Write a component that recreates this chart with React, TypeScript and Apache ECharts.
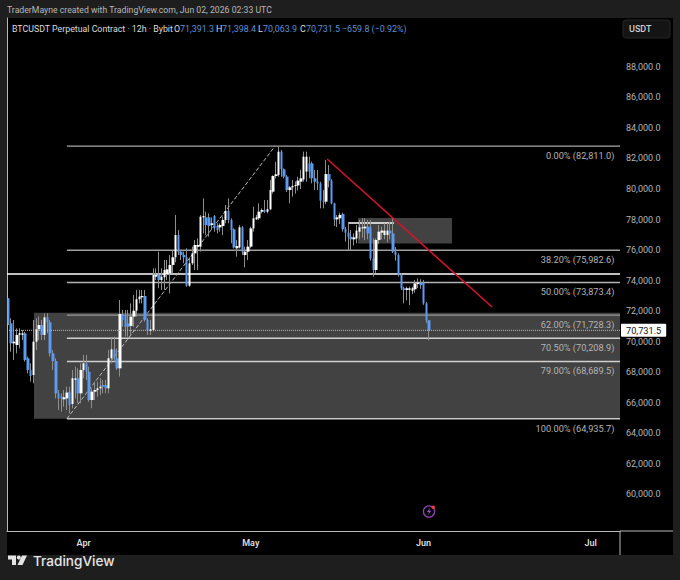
import React, { useEffect, useRef } from "react";
import * as echarts from "echarts";

// [open, close, low, high], one candle per 12h
const candlesMar = [
  [72830,71190,71080,72830],[71190,69880,69330,71520],[69880,69990,68790,71410],[69770,70430,69225,70860],
  [70430,70540,69550,70860],[70430,70540,70100,70750],[70540,68790,68680,70640],[68900,68130,67910,69010],
  [68130,67740,67370,68570],[67800,69990,67260,71410],[69990,70800,69440,71520],[70800,71080,70100,71630],
  [71080,70430,70100,71410],[70430,71585,70100,71850],[71585,71260,70540,71850],[71260,69225,69010,71410],
  [69225,68720,68130,69440],[68720,66600,66270,68900],[66600,66270,65510,66820],[66380,66270,65400,66600],
  [66210,66340,65730,66820],[66270,66650,65510,67040],[66710,65840,65290,67040],[65900,67590,65620,68130],
  [67480,67590,66270,68350],[67590,66600,65950,68240],[66600,68130,65950,68570],
];
const candlesApr = [
  [68130,68570,67590,69120],[68570,68020,67480,69120],[68020,66160,66050,68350],[66160,66710,65620,66930],
  [66710,66820,66160,67370],[66820,66930,66380,67370],[66930,67040,66490,67590],[67150,67040,66600,67480],
  [67150,66930,66600,67480],[66930,68900,66600,69440],[68900,69490,68570,70210],[69490,68900,68680,70320],
  [68900,68240,68130,69550],[68240,71800,67700,72720],[71800,71410,70970,72070],[71740,70970,70320,72070],
  [71190,70970,70320,72070],[71020,71630,70430,72500],[71630,72020,70970,73050],[72020,72770,71630,73380],
  [72770,72940,72500,73380],[72900,72985,72500,73380],[72985,71410,71300,73380],[71410,70710,70430,71520],
  [70710,70800,70430,71410],[70750,74360,70640,74800],[74250,74360,74030,74800],[74360,74030,73490,75890],
  [74030,74250,73380,74800],[74210,74690,73380,75340],[74425,74730,74030,75340],[74470,75020,73150,75670],
  [75020,75520,74470,76000],[75520,76980,75200,78295],[76980,75890,75670,77310],[75890,75670,75340,76000],
  [75670,75520,75130,75890],[75520,73660,73595,76110],[73660,75125,73595,75520],[75125,75780,75016,76217],
  [75780,76330,74690,76655],[76220,76330,74690,76760],[76220,78185,75900,78295],[78140,78230,77090,79390],
  [78140,77640,76980,78510],[78140,77570,76870,78400],[77640,77750,77310,78140],[78230,77420,77200,78295],
  [77570,77310,77090,77750],[77480,77640,77200,77750],[77570,77970,76980,78185],[77970,78560,77750,78950],
  [78560,77970,77750,79390],[77970,77310,76440,78076],[77355,76170,76100,77420],[76110,76260,75560,76650],
  [76170,77490,76100,77640],[77490,75890,75670,77570],[75670,75890,74860,76220],[75890,76220,75340,76650],
];
const candlesMay = [
  [76220,77420,76110,77530],[77420,78080,77200,78840],[78010,78140,77970,78300],[78080,78510,77970,79060],
  [78510,78620,78400,78730],[78620,78510,78430,79280],[78510,78670,78400,79280],[78670,79930,78600,80590],
  [79825,80850,79700,80900],[80850,80960,80700,81790],[80920,82450,80800,82780],[82450,81290,80800,82560],
  [81290,80810,80700,81350],[80810,79930,79800,80920],[79930,80110,79060,80200],[80110,80200,79500,80590],
  [80190,80260,79700,80500],[80230,80550,79900,80800],[80480,80700,80000,81250],[80630,82120,80480,82450],
  [81140,82120,80480,82450],[81680,81140,80700,82120],[81680,80700,80370,81790],[80700,80480,79930,81250],
  [80480,80370,79930,81250],[80370,79230,78730,80480],[79230,79170,78730,79930],[79170,80980,79000,81900],
  [80980,80550,80100,81570],[80550,79060,79000,80640],[79060,78010,77570,79100],[78010,78140,77500,78290],
  [78080,78300,77700,78450],[78360,77360,77200,78450],[77360,77140,76550,77500],[77140,76870,76000,77750],
  [76870,76700,76000,77310],[76700,76830,76300,77090],[76760,77270,76440,77640],[77200,77490,76700,77970],
  [77420,77490,76800,78080],[77420,77530,76650,78080],[77530,77090,76700,77970],[77490,75450,75300,77970],
  [75450,74690,74250,76760],[74690,76660,74500,76760],[76660,77200,76400,77640],[77140,77270,76700,77530],
  [76980,77270,76700,77750],[76980,77270,76500,77750],[77270,77090,76700,77860],[77090,75890,75800,78080],
  [75890,75670,75300,76200],[75670,74360,74250,75780],[74360,73490,73380,74470],[73490,73380,72500,73590],
  [73380,73490,72700,73590],[73380,73490,72390,73590],[73330,73490,73100,73590],[73420,73810,73200,74030],
  [73770,73860,73500,74140],[73860,73700,73450,74080],
];
const candlesJun = [
  [73860,72500,72400,74030],[72500,71391,71200,72600],[71391.3,70731.5,70063.9,71398.4],
];
const candles = [...candlesMar, ...candlesApr, ...candlesMay, ...candlesJun];

const monthLabels: Record<number, string> = { 27: "Apr", 87: "May", 149: "Jun", 209: "Jul" };
const slotCount = 220;
const categories = Array.from({ length: slotCount }, (_, i) => monthLabels[i] ?? `c${i}`);

const priceTicks = [60000, 62000, 64000, 66000, 68000, 70000, 72000, 74000, 76000, 78000, 80000, 82000, 84000, 86000, 88000];
const fibPrices = [82811, 75982.6, 73873.4, 71728.3, 70208.9, 68689.5, 64935.7];
const fibRatios = ["0.00%", "38.20%", "50.00%", "62.00%", "70.50%", "79.00%", "100.00%"];
const fibColors = ["#a8a8a8", "#a0a0a0", "#b4b4b4", "#9a9a9a", "#d0d0d0", "#d0d0d0", "#c8c8c8"];
const lastPrice = 70731.5;
const keyLevel = 74427;
// [slot from, slot to, price top, price bottom]
const zones = [
  [9.7, 220, 71888, 64935.7],
  [126, 159.7, 78100, 76425],
];
const fmt = (v: number) => v.toLocaleString("en-US", { minimumFractionDigits: 1, maximumFractionDigits: 1 });
const FONT = 'Roboto, "Liberation Sans", sans-serif';

const hline = (name: string, data: number[][], color: string, width: number, type: string, z: number, extra: object = {}) => ({
  name, type: "line", xAxisIndex: 1, yAxisIndex: 0, data, symbol: "none", silent: true, z,
  lineStyle: { color, width, type }, ...extra,
});

const txt = (text: string, x: number, y: number, fill: string, font = `8.9px ${FONT}`, textAlign = "left") => ({
  type: "text", x, y, silent: true,
  style: { text, fill, font, textAlign, textVerticalAlign: "middle" },
});

export default function App() {
  const ref = useRef<HTMLDivElement>(null);
  useEffect(() => {
    document.body.style.margin = "0";
    document.body.style.background = "#1e1e1e";
    const chart = echarts.init(ref.current!, undefined, { renderer: "svg" });
    const blue = "#5b9bf0";
    const headBlue = "#5f8fd6";
    echarts.graphic.registerShape("tvSlant", echarts.graphic.extendPath(
      "M5 0 H0 L-4.5 9.5 H0.5 Z", {}) as any);
    chart.setOption({
      animation: false,
      backgroundColor: "#1e1e1e",
      tooltip: { show: false },
      grid: { left: 7, top: 18, width: 613, height: 513, containLabel: false },
      xAxis: [
        {
          type: "category", data: categories, boundaryGap: true,
          axisLine: { show: true, lineStyle: { color: "#b8b8b8", width: 1 } },
          axisTick: { show: false }, splitLine: { show: false },
          axisLabel: {
            interval: (i: number) => monthLabels[i] !== undefined,
            color: "#dcdcdc", fontFamily: FONT, fontSize: 9, fontWeight: 600, margin: 7,
          },
        },
        { type: "value", min: 0, max: slotCount, show: false, splitLine: { show: false } },
      ],
      yAxis: {
        type: "value", position: "right", min: 57574, max: 91213, scale: true,
        axisLine: { show: true, lineStyle: { color: "#b8b8b8", width: 1 } },
        axisTick: { show: false }, splitLine: { show: false },
        axisLabel: {
          customValues: priceTicks, color: "#b4b4b4", fontFamily: FONT, fontSize: 9, margin: 6,
          formatter: (v: number) => fmt(v),
        },
      },
      graphic: [
        { type: "rect", z: -10, silent: true, shape: { x: 7, y: 18, width: 666, height: 537 }, style: { fill: "#000" } },
        { type: "line", silent: true, shape: { x1: 620, y1: 531, x2: 620, y2: 555 }, style: { stroke: "#b8b8b8", lineWidth: 1 } },
        { type: "line", silent: true, shape: { x1: 620, y1: 531, x2: 673, y2: 531 }, style: { stroke: "#b8b8b8", lineWidth: 1 } },
        txt("TraderMayne created with TradingView.com, Jun 02, 2026 02:33 UTC", 7, 10, "#b8b8b8", `8.7px ${FONT}`),
        txt("BTCUSDT Perpetual Contract · 12h · Bybit", 12, 29, "#dcdcdc", `8.8px ${FONT}`),
        txt("O", 174, 29, "#dcdcdc"), txt("71,391.3", 180, 29, headBlue),
        txt("H", 216, 29, "#dcdcdc"), txt("71,398.4", 222, 29, headBlue),
        txt("L", 258, 29, "#dcdcdc"), txt("70,063.9", 263, 29, headBlue),
        txt("C", 300, 29, "#dcdcdc"), txt("70,731.5", 306, 29, headBlue),
        txt("−659.8 (−0.92%)", 342, 29, headBlue),
        { type: "rect", silent: true, shape: { x: 623, y: 20, width: 47, height: 18, r: 3 }, style: { fill: "#141414", stroke: "#262626" } },
        txt("USDT", 629, 29, "#cfcfcf", `500 9px ${FONT}`),
        // lightning marker
        { type: "circle", silent: true, shape: { cx: 429, cy: 511.5, r: 5.6 }, style: { fill: "none", stroke: "#8e44ad", lineWidth: 1.3 } },
        { type: "polygon", silent: true, shape: { points: [[430, 507.8], [427, 512], [429, 512], [428, 515.2], [431.2, 510.8], [429.2, 510.8]] }, style: { fill: "#9b59c6" } },
        { type: "circle", silent: true, shape: { cx: 433.2, cy: 507.2, r: 1.8 }, style: { fill: "#f23645" } },
        // TradingView logo
        { type: "polygon", silent: true, shape: { points: [[8, 555.5], [16, 555.5], [16, 565], [12, 565], [12, 559.5], [8, 559.5]] }, style: { fill: "#e4e4e4" } },
        { type: "circle", silent: true, shape: { cx: 18.8, cy: 557.6, r: 2 }, style: { fill: "#e4e4e4" } },
        { type: "tvSlant", silent: true, x: 22, y: 555.5, style: { fill: "#e4e4e4" } },
        txt("TradingView", 33, 560.5, "#e4e4e4", `500 13.6px Inter, ${FONT}`),
      ],
      series: [
        {
          name: "zones", type: "custom", xAxisIndex: 1, yAxisIndex: 0, z: 1, silent: true, clip: true,
          encode: { x: [0, 1], y: [2, 3] }, data: zones,
          renderItem: (_: any, api: any) => {
            const a = api.coord([api.value(0), api.value(2)]);
            const b = api.coord([api.value(1), api.value(3)]);
            return { type: "rect", shape: { x: a[0], y: a[1], width: b[0] - a[0], height: b[1] - a[1] }, style: { fill: "#424242" } };
          },
        },
        ...fibPrices.map((p, i) =>
          hline(`fib ${fibRatios[i]}`, [[21.5, p], [slotCount, p]], fibColors[i], 1.4, "solid", 2)),
        hline("key level", [[0, keyLevel], [slotCount, keyLevel]], "#ffffff", 1.6, "solid", 2),
        hline("range high", [[122.4, 77771], [138.9, 77771]], "#ffffff", 1.3, "solid", 2),
        hline("fib trend", [[21.5, fibPrices[6]], [96.2, fibPrices[0]]], "#b8b8b8", 1, "dashed", 2),
        {
          name: "fib labels", type: "custom", xAxisIndex: 1, yAxisIndex: 0, z: 3, silent: true,
          encode: { x: 0, y: 1 }, data: fibPrices.map((p) => [218, p]),
          renderItem: (params: any, api: any) => {
            const pt = api.coord([api.value(0), api.value(1)]);
            const i = params.dataIndex;
            return {
              type: "text", x: pt[0], y: pt[1] + 9.5,
              style: { text: `${fibRatios[i]} (${fmt(fibPrices[i])})`, fill: "#b4b4b4", font: `9.2px ${FONT}`, textAlign: "right", textVerticalAlign: "middle" },
            };
          },
        },
        {
          name: "wicks", type: "candlestick", xAxisIndex: 0, yAxisIndex: 0, data: candles, barWidth: 1, z: 4, silent: true,
          itemStyle: { color: "#8e8e8e", color0: "#8e8e8e", borderColor: "#8e8e8e", borderColor0: "#8e8e8e", borderWidth: 1 },
        },
        {
          name: "bodies", type: "candlestick", xAxisIndex: 0, yAxisIndex: 0, barWidth: 3, z: 5, silent: true,
          data: candles.map(([o, c]) => [o, c, Math.min(o, c), Math.max(o, c)]),
          itemStyle: { color: "#ffffff", color0: blue, borderColor: "#ffffff", borderColor0: blue, borderWidth: 0 },
        },
        hline("last price", [[0, lastPrice], [slotCount, lastPrice]], "#b8b8b8", 1, "dotted", 6, {
          clip: false,
          endLabel: {
            show: true, formatter: fmt(lastPrice), distance: 1, color: "#111", backgroundColor: "#fff",
            fontFamily: FONT, fontSize: 9.2, padding: [2, 5, 2, 5], borderRadius: 1,
          },
        }),
        hline("trendline", [[114.9, 81968], [174.1, 72263]], "#d4132c", 1.6, "solid", 7),
      ],
    });
    return () => chart.dispose();
  }, []);
  return <div ref={ref} style={{ position: "absolute", left: 0, top: 0, width: 680, height: 580 }} />;
}
